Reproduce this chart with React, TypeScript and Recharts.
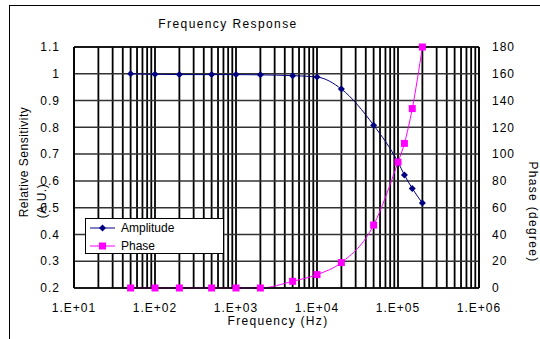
import {
  LineChart,
  Line,
  XAxis,
  YAxis,
  CartesianGrid,
  ReferenceLine,
} from "recharts";

const frequencies = [50, 100, 200, 500, 1000, 2000, 5000, 10000, 20000, 50000, 100000, 120000, 150000, 200000];
const amplitude = [1.0, 0.998, 0.997, 0.997, 0.997, 0.996, 0.993, 0.988, 0.943, 0.808, 0.67, 0.622, 0.572, 0.517];
const phase = [0, 0, 0, 0, 0, 0, 5, 10, 19, 47, 94, 108, 134, 180];

const decades = [10, 100, 1000, 10000, 100000, 1000000];
const minorSteps = [1, 2, 3, 4, 5, 6, 7, 8, 9];
const ampTicks = [0.2, 0.3, 0.4, 0.5, 0.6, 0.7, 0.8, 0.9, 1, 1.1];
const phaseTicks = [0, 20, 40, 60, 80, 100, 120, 140, 160, 180];

// gridlines at every 1..9 step of each decade
const gridTicks: number[] = [];
decades.slice(0, -1).forEach((d) => minorSteps.forEach((m) => gridTicks.push(d * m)));
gridTicks.push(1000000);

const rows = frequencies.map((f, i) => ({ f, amp: amplitude[i], phase: phase[i] }));

const FONT = "'Liberation Sans', Arial, sans-serif";
const NAVY = "#000080";
const MAGENTA = "#ff00ff";

function fmtFreq(v: number) {
  if (!decades.includes(v)) return "";
  const e = Math.round(Math.log10(v));
  return "1.E+" + String(e).padStart(2, "0");
}

function Diamond(props: any) {
  const { cx, cy } = props;
  if (cx == null || cy == null) return <g />;
  const s = 3.5;
  return (
    <polygon
      points={`${cx},${cy - s} ${cx + s},${cy} ${cx},${cy + s} ${cx - s},${cy}`}
      fill={NAVY}
    />
  );
}

function Square(props: any) {
  const { cx, cy } = props;
  if (cx == null || cy == null) return <g />;
  return <rect x={cx - 3.5} y={cy - 3.5} width={7} height={7} fill={MAGENTA} />;
}

export default function App() {
  const tickStyle = { fill: "#000", fontSize: 12, fontFamily: FONT, letterSpacing: 1 };

  return (
    <div
      style={{
        position: "absolute",
        left: 0,
        top: 0,
        width: 540,
        height: 339,
        overflow: "hidden",
        background: "#fff",
        fontFamily: FONT,
      }}
    >
      <div
        style={{
          position: "absolute",
          left: 9,
          top: 5,
          width: 600,
          height: 400,
          border: "1px solid #000",
        }}
      />

      <LineChart
        width={540}
        height={339}
        data={rows}
        margin={{ top: 47, right: 0, bottom: 0, left: 0 }}
        style={{ position: "absolute", left: 0, top: 0 }}
      >
        <CartesianGrid
          xAxisId="x"
          yAxisId="left"
          horizontal={false}
          stroke="#000"
          strokeWidth={1.8}
        />
        <CartesianGrid
          xAxisId="x"
          yAxisId="left"
          vertical={false}
          stroke="#333"
          strokeWidth={1.5}
        />
        <XAxis
          xAxisId="x"
          dataKey="f"
          type="number"
          scale="log"
          domain={[10, 1000000]}
          allowDataOverflow
          ticks={gridTicks}
          interval={0}
          tickFormatter={fmtFreq}
          tickLine={false}
          tickSize={0}
          tickMargin={15}
          height={51}
          axisLine={{ stroke: "#000", strokeWidth: 1.5 }}
          tick={tickStyle}
        />
        <YAxis
          yAxisId="left"
          type="number"
          domain={[0.2, 1.1]}
          ticks={ampTicks}
          interval={0}
          width={74}
          tickLine={false}
          tickSize={0}
          tickMargin={14}
          axisLine={{ stroke: "#000", strokeWidth: 1.5 }}
          tick={tickStyle}
        />
        <YAxis
          yAxisId="right"
          orientation="right"
          type="number"
          domain={[0, 180]}
          ticks={phaseTicks}
          interval={0}
          width={61}
          tickLine={false}
          tickSize={0}
          tickMargin={13}
          axisLine={{ stroke: "#000", strokeWidth: 1.5 }}
          tick={tickStyle}
        />
        <ReferenceLine xAxisId="x" yAxisId="left" y={1.1} stroke="#000" strokeWidth={1.5} />
        <Line
          xAxisId="x"
          yAxisId="left"
          type="monotone"
          dataKey="amp"
          stroke={NAVY}
          strokeWidth={1}
          dot={(p: any) => <Diamond key={"a" + p.index} {...p} />}
          isAnimationActive={false}
        />
        <Line
          xAxisId="x"
          yAxisId="right"
          type="monotone"
          dataKey="phase"
          stroke={MAGENTA}
          strokeWidth={1}
          dot={(p: any) => <Square key={"p" + p.index} {...p} />}
          isAnimationActive={false}
        />
      </LineChart>

      <svg
        width={540}
        height={339}
        style={{ position: "absolute", left: 0, top: 0, pointerEvents: "none" }}
        fontFamily={FONT}
        fontSize={12}
        fill="#000"
      >
        <text x={228} y={28} textAnchor="middle" letterSpacing={1.4}>
          Frequency Response
        </text>
        <text x={278} y={325} textAnchor="middle" letterSpacing={1.3}>
          Frequency (Hz)
        </text>
        <text
          x={28}
          y={162}
          textAnchor="middle"
          letterSpacing={0.5}
          transform="rotate(-90 28 162)"
        >
          Relative Sensitivity
        </text>
        <text
          x={46}
          y={201}
          textAnchor="middle"
          letterSpacing={0.5}
          transform="rotate(-90 46 201)"
        >
          (A.U.)
        </text>
        <text
          x={529}
          y={212}
          textAnchor="middle"
          letterSpacing={1.3}
          transform="rotate(90 529 212)"
        >
          Phase (degree)
        </text>
      </svg>

      <div
        style={{
          position: "absolute",
          left: 85,
          top: 218,
          width: 137,
          height: 34,
          border: "1px solid #000",
          background: "#fff",
          fontSize: 12,
          color: "#000",
        }}
      >
        <svg width={137} height={34} style={{ position: "absolute", left: 0, top: 0 }}>
          <line x1={4} x2={29} y1={9} y2={9} stroke={NAVY} strokeWidth={1} />
          <Diamond cx={16.5} cy={9} />
          <line x1={4} x2={29} y1={27} y2={27} stroke={MAGENTA} strokeWidth={1} />
          <Square cx={16.5} cy={27} />
          <text x={35} y={13} fontFamily={FONT} fontSize={12} fill="#000">
            Amplitude
          </text>
          <text x={35} y={31} fontFamily={FONT} fontSize={12} fill="#000">
            Phase
          </text>
        </svg>
      </div>
    </div>
  );
}
